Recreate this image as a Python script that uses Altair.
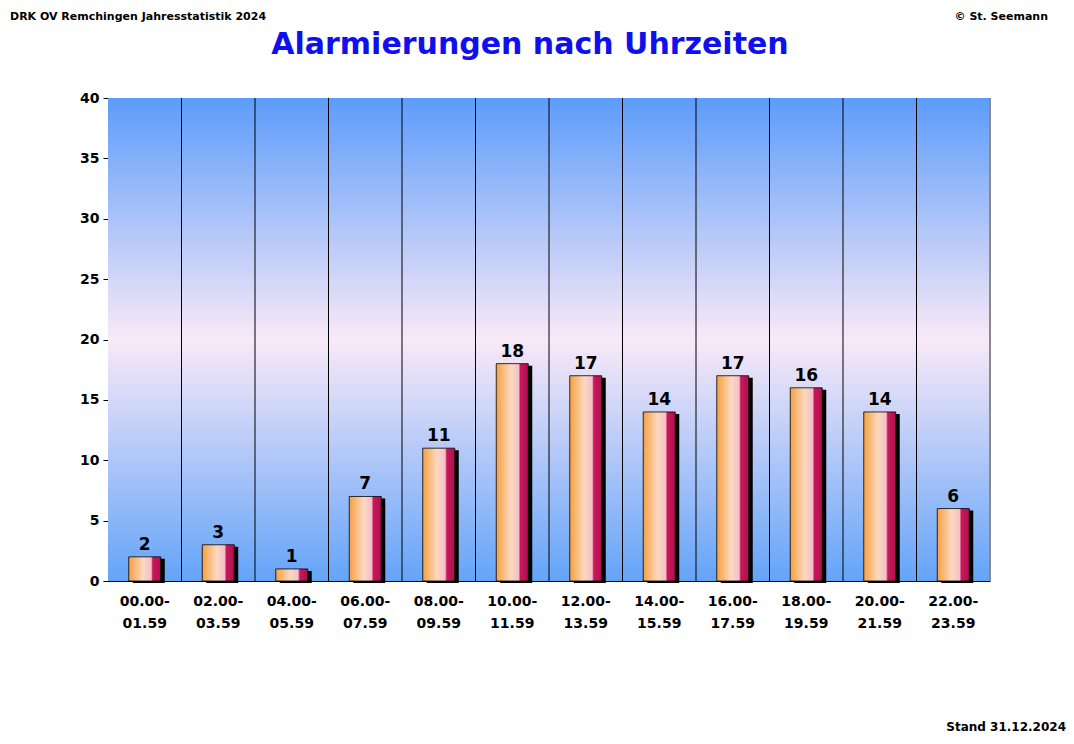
import altair as alt
import pandas as pd

cats = ["00.00-|01.59","02.00-|03.59","04.00-|05.59","06.00-|07.59","08.00-|09.59","10.00-|11.59",
        "12.00-|13.59","14.00-|15.59","16.00-|17.59","18.00-|19.59","20.00-|21.59","22.00-|23.59"]
vals = [2,3,1,7,11,18,17,14,17,16,14,6]
df = pd.DataFrame({"cat": cats, "v": vals})
W, H = 882, 483
FONT = "DejaVu Sans"

xenc = alt.X("cat:N", sort=cats, title=None,
             scale=alt.Scale(paddingInner=0, paddingOuter=0),
             axis=alt.Axis(labelExpr="split(datum.label, '|')", labelAngle=0, labelAlign="center",
                           labelFont=FONT, labelFontWeight="bold", labelFontSize=14, labelColor="black",
                           domainColor="black", ticks=False, labelPadding=20, labelLineHeight=22))
yenc = alt.Y("v:Q", title=None, scale=alt.Scale(domain=[0, 40], nice=False),
             axis=alt.Axis(values=list(range(0, 41, 5)), labelFont=FONT, labelFontWeight="bold",
                           labelFontSize=14, labelColor="black", domainColor="black",
                           tickColor="black", grid=False, labelPadding=4))

bg = alt.Chart(df).mark_rect(fill=alt.Gradient(gradient="linear", x1=0, y1=0, x2=0, y2=1, stops=[
    alt.GradientStop(offset=0, color="#5c9cfb"),
    alt.GradientStop(offset=0.5, color="#f9e9f7"),
    alt.GradientStop(offset=1, color="#64a4f9")])).encode(
    x=alt.value(0), x2=alt.value(W), y=alt.value(0), y2=alt.value(H))

seps = alt.Chart(df.iloc[1:]).mark_rule(color="black", strokeWidth=1).encode(
    x=alt.X("cat:N", sort=cats, bandPosition=0), y=alt.value(0), y2=alt.value(H))
border = alt.Chart(df).mark_rule(color="#888888").encode(x=alt.value(W), y=alt.value(0), y2=alt.value(H))

shadow = alt.Chart(df).mark_bar(color="black", xOffset=4, yOffset=2, width=32).encode(x=xenc, y=yenc)
bars = alt.Chart(df).mark_bar(width=32, stroke="black", strokeWidth=0.8, fill=alt.Gradient(
    gradient="linear", x1=0, y1=0, x2=1, y2=0, stops=[
        alt.GradientStop(offset=0, color="#f5a040"),
        alt.GradientStop(offset=0.45, color="#fbd8c0"),
        alt.GradientStop(offset=0.7, color="#f4c0c8"),
        alt.GradientStop(offset=0.75, color="#c8185a"),
        alt.GradientStop(offset=1, color="#b01050")])).encode(x=xenc, y=yenc)
labels = alt.Chart(df).mark_text(dy=-12, font=FONT, fontWeight="bold", fontSize=17, color="black").encode(
    x=xenc, y=yenc, text="v:Q")

def txt(s, x, y, size, align="left", color="black", bold=True):
    return alt.Chart(pd.DataFrame({"t": [s]})).mark_text(
        text=s, align=align, baseline="middle", fontSize=size, font=FONT, color=color,
        fontWeight="bold" if bold else "normal").encode(x=alt.value(x), y=alt.value(y))

texts = (txt("DRK OV Remchingen Jahresstatistik 2024", -98, -81, 11)
         + txt("© St. Seemann", 940, -81, 11, align="right")
         + txt("Alarmierungen nach Uhrzeiten", 422, -53, 30, align="center", color="#1010ee")
         + txt("Stand 31.12.2024", 958, 629, 12, align="right"))

chart = alt.layer(bg, seps, border, shadow, bars, labels, texts).properties(
    width=W, height=H, autosize=alt.AutoSizeParams(type="none"),
    padding={"left": 100, "top": 90, "right": 76, "bottom": 155}, background="white"
).configure_view(stroke=None)
chart.save("out.html", embed_options={"renderer": "svg", "actions": False})
